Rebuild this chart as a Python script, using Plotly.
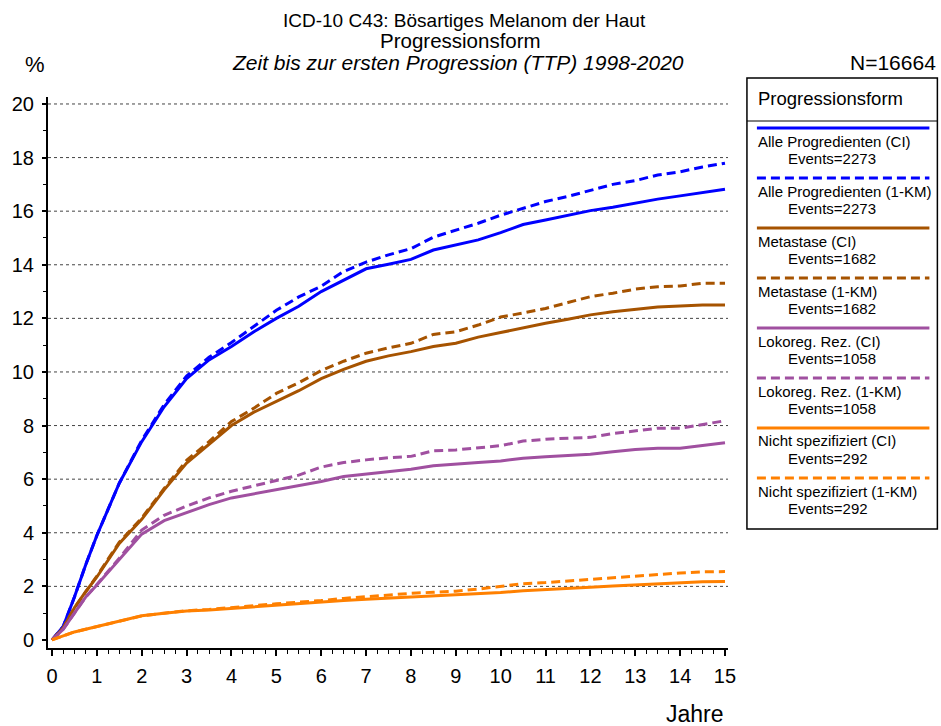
import plotly.graph_objects as go

# ---------------- data ----------------
years = [0, 0.25, 0.5, 0.75, 1, 1.5, 2, 2.5, 3, 3.5, 4, 4.5, 5, 5.5, 6, 6.5, 7, 7.5, 8,
         8.5, 9, 9.5, 10, 10.5, 11, 11.5, 12, 12.5, 13, 13.5, 14, 14.5, 15]

alle_ci = [0, 0.5, 1.6, 2.8, 3.9, 5.85, 7.4, 8.7, 9.75, 10.45, 10.95, 11.5, 12.0, 12.45, 13.0,
           13.43, 13.85, 14.02, 14.2, 14.55, 14.75, 14.93, 15.2, 15.5, 15.67, 15.85, 16.02,
           16.15, 16.3, 16.45, 16.57, 16.7, 16.82]
alle_km = [0, 0.5, 1.6, 2.8, 3.9, 5.85, 7.45, 8.78, 9.85, 10.55, 11.1, 11.7, 12.3, 12.8, 13.2,
           13.75, 14.1, 14.37, 14.6, 15.03, 15.3, 15.55, 15.85, 16.1, 16.36, 16.55, 16.77,
           17.0, 17.14, 17.35, 17.47, 17.65, 17.79]
meta_ci = [0, 0.45, 1.2, 1.8, 2.35, 3.6, 4.5, 5.6, 6.6, 7.3, 8.0, 8.5, 8.9, 9.3, 9.75, 10.1,
           10.4, 10.6, 10.76, 10.95, 11.07, 11.3, 11.47, 11.65, 11.82, 11.97, 12.13, 12.25,
           12.34, 12.42, 12.46, 12.5, 12.5]
meta_km = [0, 0.45, 1.2, 1.8, 2.38, 3.65, 4.55, 5.65, 6.7, 7.4, 8.15, 8.65, 9.2, 9.6, 10.05,
           10.4, 10.7, 10.9, 11.07, 11.4, 11.5, 11.75, 12.05, 12.2, 12.37, 12.59, 12.81, 12.94,
           13.09, 13.18, 13.21, 13.31, 13.31]
lokal_ci = [0, 0.4, 1.0, 1.6, 2.05, 3.0, 3.95, 4.45, 4.75, 5.05, 5.3, 5.45, 5.6, 5.75, 5.91,
            6.1, 6.19, 6.28, 6.37, 6.5, 6.57, 6.62, 6.68, 6.78, 6.84, 6.89, 6.93, 7.02, 7.11,
            7.15, 7.15, 7.26, 7.36]
lokal_km = [0, 0.4, 1.0, 1.6, 2.07, 3.05, 4.1, 4.65, 5.0, 5.3, 5.55, 5.75, 5.95, 6.15, 6.45,
            6.62, 6.72, 6.8, 6.85, 7.06, 7.09, 7.17, 7.25, 7.42, 7.49, 7.53, 7.56, 7.7, 7.81,
            7.9, 7.9, 8.05, 8.18]
nicht_ci = [0, 0.15, 0.3, 0.4, 0.5, 0.68, 0.9, 1.0, 1.08, 1.12, 1.18, 1.25, 1.31, 1.36, 1.41,
            1.47, 1.52, 1.56, 1.59, 1.64, 1.68, 1.72, 1.77, 1.84, 1.89, 1.93, 1.97, 2.01, 2.05,
            2.11, 2.14, 2.17, 2.18]
nicht_km = [0, 0.15, 0.3, 0.4, 0.5, 0.68, 0.9, 1.0, 1.09, 1.14, 1.2, 1.28, 1.35, 1.4, 1.47,
            1.55, 1.62, 1.68, 1.74, 1.78, 1.82, 1.9, 1.99, 2.1, 2.14, 2.2, 2.26, 2.32, 2.39,
            2.46, 2.5, 2.54, 2.55]

series_names = ["Alle Progredienten (CI)", "Alle Progredienten (1-KM)", "Metastase (CI)",
                "Metastase (1-KM)", "Lokoreg. Rez. (CI)", "Lokoreg. Rez. (1-KM)",
                "Nicht spezifiziert (CI)", "Nicht spezifiziert (1-KM)"]
events = [2273, 2273, 1682, 1682, 1058, 1058, 292, 292]
series_values = [alle_ci, alle_km, meta_ci, meta_km, lokal_ci, lokal_km, nicht_ci, nicht_km]

x_ticks = list(range(0, 16))
y_ticks = list(range(0, 21, 2))

# ---------------- styles ----------------
colors = ["#0000FF", "#0000FF", "#A65300", "#A65300", "#A050A0", "#A050A0", "#FF8000", "#FF8000"]
dashes = ["solid", "9px,5px", "solid", "9px,5px", "solid", "9px,5px", "solid", "9px,5px"]

W, H = 941, 726
L, R, T, B = 46, 213, 97, 78
FONT = "Liberation Sans, Arial, sans-serif"


def pxx(px):
    return (px - L) / (W - L - R)


def pyy(py):
    return (H - B - py) / (H - T - B)


fig = go.Figure()
for name, vals, c, d in zip(series_names, series_values, colors, dashes):
    fig.add_trace(go.Scatter(x=years, y=vals, mode="lines", name=name, showlegend=False,
                             line=dict(color=c, width=3, dash=d)))

shapes = []
# horizontal dotted grid (no line at 0)
for v in y_ticks:
    if v == 0:
        continue
    shapes.append(dict(type="line", xref="paper", yref="y", x0=0, x1=1, y0=v, y1=v,
                       line=dict(color="#444444", width=1, dash="dot"), layer="below"))


def txt(text, px, py, size, anchor="center"):
    return dict(xref="paper", yref="paper", x=pxx(px), y=pyy(py), text=text,
                showarrow=False, xanchor=anchor, yanchor="middle",
                font=dict(family=FONT, size=size, color="black"))


annotations = [
    txt("ICD-10 C43: Bösartiges Melanom der Haut", 464, 20, 19),
    txt("Progressionsform", 460, 41, 20.5),
    txt("<i>Zeit bis zur ersten Progression (TTP) 1998-2020</i>", 457, 62, 21),
    txt("%", 21, 64, 22, "left"),
    txt("N=16664", 939, 63, 21, "right"),
    txt("Jahre", 726, 714, 23, "right"),
]

# custom legend box
shapes.append(dict(type="rect", xref="paper", yref="paper", x0=pxx(747), x1=pxx(938),
                   y0=pyy(529), y1=pyy(78), line=dict(color="black", width=1.5),
                   fillcolor="white", layer="above"))
shapes.append(dict(type="line", xref="paper", yref="paper", x0=pxx(747), x1=pxx(938),
                   y0=pyy(121), y1=pyy(121), line=dict(color="black", width=1), layer="above"))
annotations.append(txt("Progressionsform", 756, 98, 18.5, "left"))
for i, (name, ev, c, d) in enumerate(zip(series_names, events, colors, dashes)):
    ly = 128 + 50 * i
    shapes.append(dict(type="line", xref="paper", yref="paper", x0=pxx(757), x1=pxx(930),
                       y0=pyy(ly), y1=pyy(ly), line=dict(color=c, width=3, dash=d), layer="above"))
    annotations.append(txt(name, 756, ly + 13, 15, "left"))
    annotations.append(txt(f"Events={ev}", 786, ly + 30.5, 15, "left"))

fig.update_layout(
    width=W, height=H,
    margin=dict(l=L, r=R, t=T, b=B, pad=0),
    paper_bgcolor="white", plot_bgcolor="white",
    font=dict(family=FONT, color="black"),
    shapes=shapes, annotations=annotations,
    showlegend=False,
    xaxis=dict(range=[-0.089, 15.067], tickvals=x_ticks, ticktext=[str(v) for v in x_ticks],
               showgrid=False, zeroline=False, showline=True, linecolor="black", linewidth=2,
               ticks="outside", ticklen=6, tickwidth=1.5, tickcolor="black",
               tickfont=dict(family=FONT, size=20, color="black"), ticklabelstandoff=3,
               minor=dict(dtick=0.25, tick0=0, ticks="outside", ticklen=4, tickwidth=1,
                          tickcolor="black", showgrid=False)),
    yaxis=dict(range=[-0.3, 20.26], tickvals=y_ticks, ticktext=[str(v) for v in y_ticks],
               showgrid=False, zeroline=False, showline=True, linecolor="black", linewidth=2,
               ticks="outside", ticklen=4, tickwidth=1.5, tickcolor="black",
               tickfont=dict(family=FONT, size=20, color="black"), ticklabelstandoff=4,
               minor=dict(dtick=1, tick0=0, ticks="outside", ticklen=3, tickwidth=1,
                          tickcolor="black", showgrid=False)),
)

fig.write_html("out.html", config={"displayModeBar": False},
               post_script="document.body.style.margin='0px';")
